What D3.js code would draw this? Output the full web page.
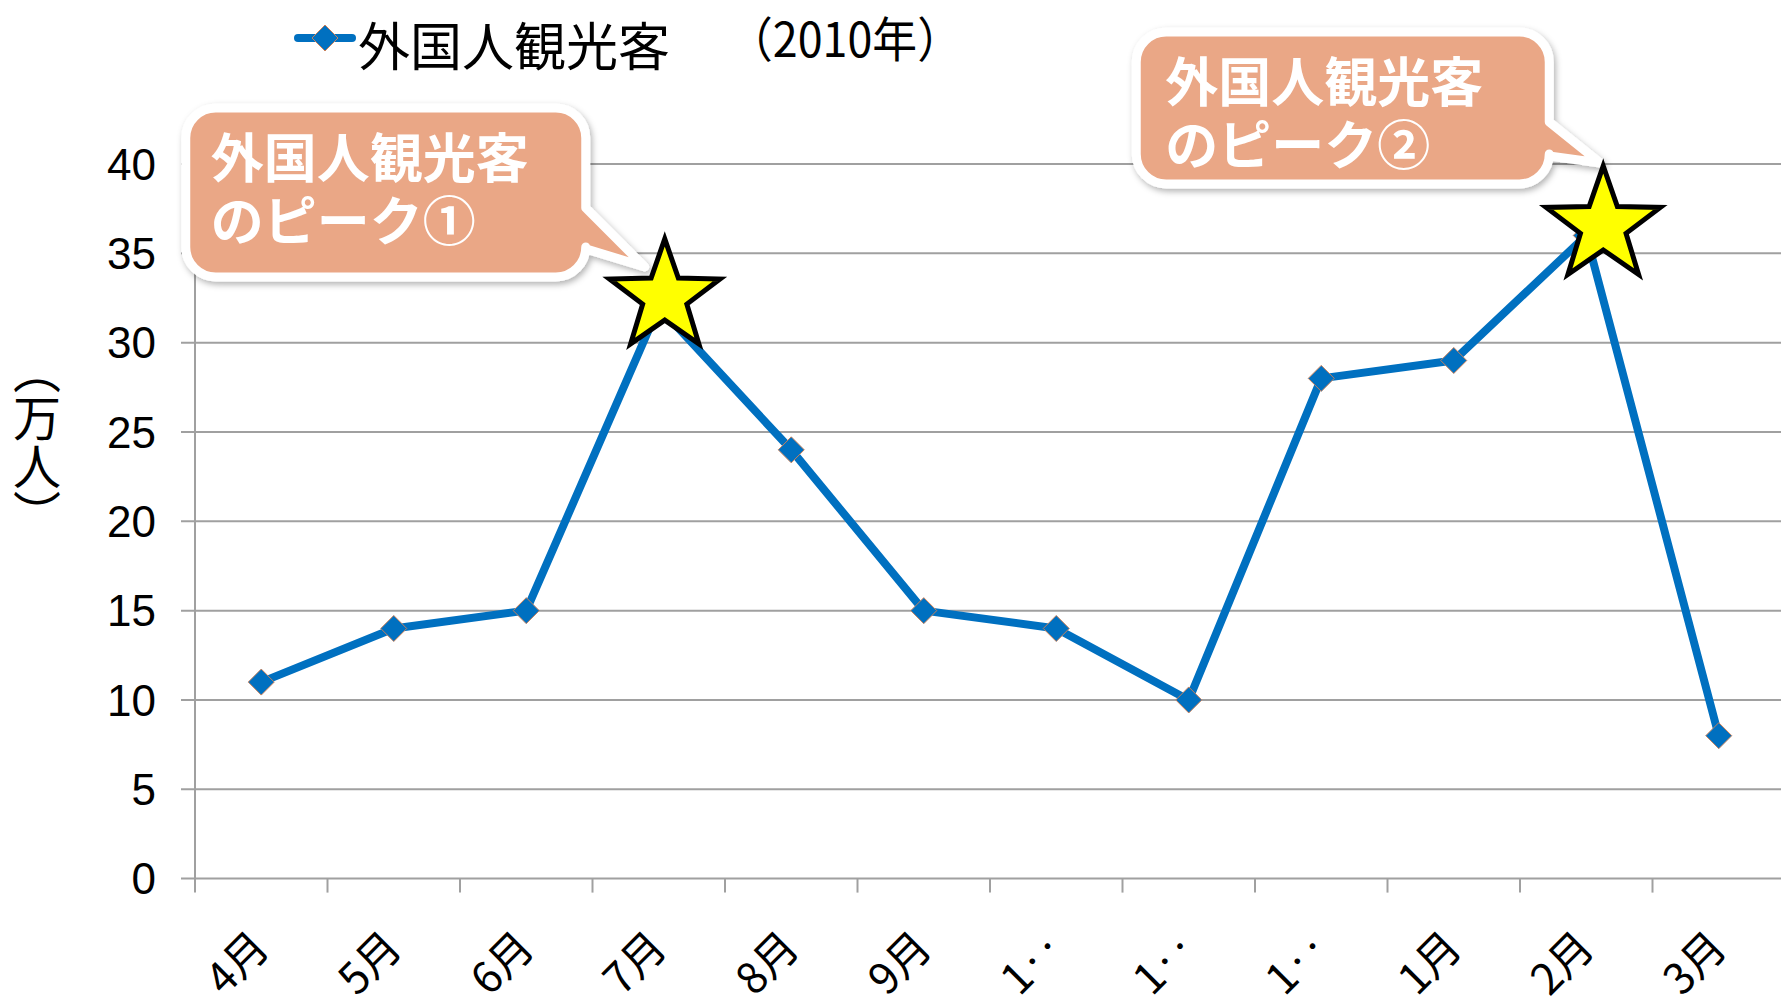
<!DOCTYPE html>
<html>

<head>
  <meta charset="utf8">
  <script src="https://d3js.org/d3.v7.min.js"></script>
  <style>
    body {
      margin: 0;
      background: #fff;
    }

    .grid line {
      stroke: #a0a0a0;
      stroke-width: 2;
    }

    .tick-label {
      font-family: "Liberation Sans", Arial, sans-serif;
      font-size: 44px;
      fill: #000;
    }

    .jp {
      font-family: "Noto Sans CJK JP", sans-serif;
    }
  </style>
</head>

<body>
  <svg id="chart" width="1781" height="1004"></svg>

  <script>
    var months = ["4月", "5月", "6月", "7月", "8月", "9月", "1‥", "1‥", "1‥", "1月", "2月", "3月"];
    var visitors = [11, 14, 15, 32, 24, 15, 14, 10, 28, 29, 36, 8];
    var yTicks = [0, 5, 10, 15, 20, 25, 30, 35, 40];
    var seriesName = "外国人観光客";
    var yearNote = "（2010年）";
    var yTitle = "（万人）";
    var peakIndex = [3, 10];
    var peakText = [
      ["外国人観光客", "のピーク①"],
      ["外国人観光客", "のピーク②"]
    ];

    var chart = d3.select('#chart');
    var plotLeft = 195, plotRight = 1785, plotTop = 164, plotBottom = 878.6;

    var x = d3.scaleBand()
      .domain(d3.range(months.length))
      .range([plotLeft, plotRight]);

    var y = d3.scaleLinear()
      .domain([0, 40])
      .range([plotBottom, plotTop]);

    var cx = (i) => x(i) + x.bandwidth() / 2;

    // shadow for callouts
    var defs = chart.append('defs');
    defs.append('filter')
      .attr('id', 'shadow')
      .attr('x', '-10%').attr('y', '-10%')
      .attr('width', '120%').attr('height', '130%')
      .append('feDropShadow')
      .attr('dx', 2).attr('dy', 3)
      .attr('stdDeviation', 3)
      .attr('flood-color', '#000')
      .attr('flood-opacity', 0.3);

    // gridlines
    chart.append('g')
      .attr('class', 'grid')
      .selectAll('line')
      .data(yTicks)
      .enter()
      .append('line')
      .attr('x1', plotLeft - 14)
      .attr('x2', 1781)
      .attr('y1', (d) => y(d))
      .attr('y2', (d) => y(d));

    // y axis line
    chart.append('line')
      .attr('x1', plotLeft).attr('x2', plotLeft)
      .attr('y1', y(40)).attr('y2', plotBottom)
      .attr('stroke', '#a0a0a0')
      .attr('stroke-width', 2);

    chart.append('g')
      .selectAll('text')
      .data(yTicks)
      .enter()
      .append('text')
      .attr('class', 'tick-label')
      .attr('x', plotLeft - 39)
      .attr('y', (d) => y(d))
      .attr('dy', '0.36em')
      .attr('text-anchor', 'end')
      .text((d) => d);

    // x axis ticks at band boundaries
    var bounds = d3.range(months.length + 1).map((i) => plotLeft + i * x.step());
    chart.append('g')
      .selectAll('line')
      .data(bounds)
      .enter()
      .append('line')
      .attr('x1', (d) => d).attr('x2', (d) => d)
      .attr('y1', plotBottom).attr('y2', plotBottom + 14)
      .attr('stroke', '#a0a0a0')
      .attr('stroke-width', 2);

    chart.append('g')
      .selectAll('text')
      .data(months)
      .enter()
      .append('text')
      .attr('class', 'jp')
      .attr('font-size', 43)
      .attr('text-anchor', 'end')
      .attr('dominant-baseline', 'central')
      .attr('transform', (d, i) => 'translate(' + (cx(i) - 3) + ',' + (plotBottom + 58) + ') rotate(-45)')
      .text((d) => d);

    // y title
    chart.append('text')
      .attr('class', 'jp')
      .attr('x', 37)
      .attr('y', 442)
      .attr('font-size', 48)
      .attr('text-anchor', 'middle')
      .style('writing-mode', 'vertical-rl')
      .text(yTitle);

    // series line
    var line = d3.line()
      .x((d, i) => cx(i))
      .y((d) => y(d));

    chart.append('path')
      .datum(visitors)
      .attr('d', line)
      .attr('fill', 'none')
      .attr('stroke', '#0070c0')
      .attr('stroke-width', 8)
      .attr('stroke-linejoin', 'round');

    var diamond = (s) => 'M0,' + (-s) + 'L' + s + ',0L0,' + s + 'L' + (-s) + ',0Z';

    chart.append('g')
      .selectAll('path')
      .data(visitors)
      .enter()
      .append('path')
      .attr('d', diamond(13))
      .attr('transform', (d, i) => 'translate(' + cx(i) + ',' + y(d) + ')')
      .attr('fill', '#0070c0')
      .attr('stroke', '#c8805a')
      .attr('stroke-width', 1);

    // legend
    var legend = chart.append('g');
    legend.append('line')
      .attr('x1', 298).attr('x2', 352)
      .attr('y1', 38).attr('y2', 38)
      .attr('stroke', '#0070c0')
      .attr('stroke-width', 8)
      .attr('stroke-linecap', 'round');
    legend.append('path')
      .attr('d', diamond(13))
      .attr('transform', 'translate(325,38)')
      .attr('fill', '#0070c0')
      .attr('stroke', '#c8805a')
      .attr('stroke-width', 1);
    legend.append('text')
      .attr('class', 'jp')
      .attr('x', 358)
      .attr('y', 43)
      .attr('font-size', 52)
      .attr('dominant-baseline', 'central')
      .text(seriesName);
    legend.append('text')
      .attr('class', 'jp')
      .attr('x', 728)
      .attr('y', 36)
      .attr('font-size', 48)
      .attr('dominant-baseline', 'central')
      .attr('textLength', 234)
      .attr('lengthAdjust', 'spacingAndGlyphs')
      .text(yearNote);

    // callouts and stars, placed relative to the peak points
    var callouts = [
      { box: [-473, -199, -73, -30], tail: [-99, -58], tip: [-14, -40], text: [-448, -152, 63], star: [6, -10, 58] },
      { box: [-450, -203.5, -37, -51.5], tail: [-113.5, -79.5], tip: [14, -72.5], text: [-421, -156, 63], star: [17, -9.5, 60] }
    ];

    function calloutPath(c) {
      var x0 = c.box[0], y0 = c.box[1], x1 = c.box[2], y1 = c.box[3], r = 30;
      return 'M' + (x0 + r) + ',' + y0 +
        'H' + (x1 - r) +
        'A' + r + ',' + r + ' 0 0 1 ' + x1 + ',' + (y0 + r) +
        'V' + c.tail[0] +
        'L' + c.tip[0] + ',' + c.tip[1] +
        'L' + x1 + ',' + c.tail[1] +
        'V' + (y1 - r) +
        'A' + r + ',' + r + ' 0 0 1 ' + (x1 - r) + ',' + y1 +
        'H' + (x0 + r) +
        'A' + r + ',' + r + ' 0 0 1 ' + x0 + ',' + (y1 - r) +
        'V' + (y0 + r) +
        'A' + r + ',' + r + ' 0 0 1 ' + (x0 + r) + ',' + y0 + 'Z';
    }

    function starPath(r) {
      var pts = [];
      for (var k = 0; k < 10; k++) {
        var rr = k % 2 === 0 ? r : r * 0.4;
        var a = -Math.PI / 2 + k * Math.PI / 5;
        pts.push([rr * Math.cos(a), rr * Math.sin(a)]);
      }
      return 'M' + pts.map((p) => p[0].toFixed(1) + ',' + p[1].toFixed(1)).join('L') + 'Z';
    }

    peakIndex.forEach(function (pi, k) {
      var c = callouts[k];
      var g = chart.append('g')
        .attr('transform', 'translate(' + cx(pi) + ',' + y(visitors[pi]) + ')');

      g.append('path')
        .attr('d', calloutPath(c))
        .attr('fill', '#eaa786')
        .attr('stroke', '#fff')
        .attr('stroke-width', 9)
        .attr('stroke-linejoin', 'round')
        .attr('filter', 'url(#shadow)');

      g.selectAll('text')
        .data(peakText[k])
        .enter()
        .append('text')
        .attr('class', 'jp')
        .attr('x', c.text[0])
        .attr('y', (d, i) => c.text[1] + i * c.text[2])
        .attr('font-size', 53)
        .attr('font-weight', 'bold')
        .attr('fill', '#fff')
        .attr('dominant-baseline', 'central')
        .text((d) => d);

      g.append('path')
        .attr('d', starPath(c.star[2]))
        .attr('transform', 'translate(' + c.star[0] + ',' + c.star[1] + ')')
        .attr('fill', '#ffff00')
        .attr('stroke', '#000')
        .attr('stroke-width', 5)
        .attr('stroke-linejoin', 'miter');
    });
  </script>
</body>

</html>
